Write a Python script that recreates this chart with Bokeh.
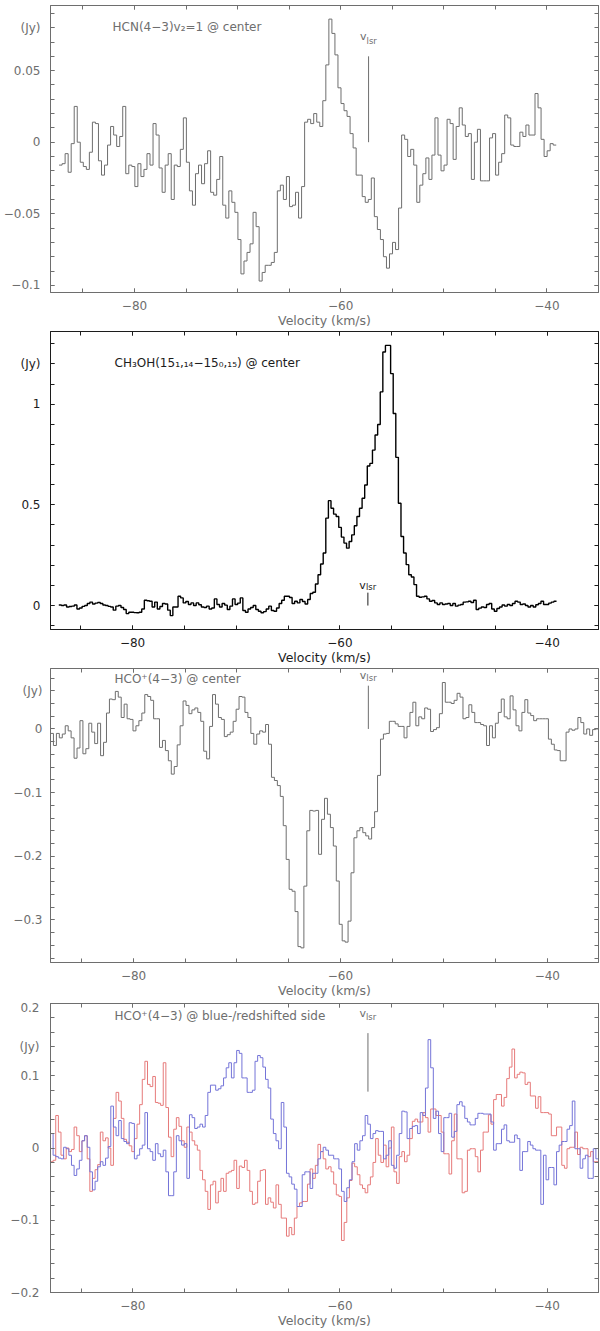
import numpy as np
from bokeh.plotting import figure
from bokeh.layouts import column
from bokeh.models import Range1d, FixedTicker, LinearAxis, Label, CustomJSTickFormatter
from bokeh.embed import file_html
from bokeh.resources import INLINE

# ---------------- data (Jy per channel) ----------------
# Panel 1: HCN(4-3) v2=1 @ center
HCN_V = (-87.32, -39.10)          # velocity span of the spectrum (km/s)
HCN_FLUX = [
    -0.016, -0.015, -0.008, -0.021, -0.001, 0.025, 0.000, -0.014, -0.017, -0.019,
    -0.007, 0.014, 0.013, -0.013, -0.023, -0.016, -0.002, 0.011, 0.005, -0.003,
    0.004, 0.025, -0.022, -0.016, -0.017, -0.031, -0.015, -0.024, -0.019, -0.008,
    -0.016, 0.013, 0.005, -0.018, -0.035, -0.016, -0.008, -0.040, -0.016, -0.017,
    -0.005, 0.017, -0.014, -0.034, -0.044, -0.022, -0.016, -0.029, -0.015, -0.006,
    -0.035, -0.037, -0.026, -0.010, -0.044, -0.053, -0.034, -0.042, -0.049, -0.068,
    -0.092, -0.083, -0.077, -0.071, -0.049, -0.059, -0.097, -0.091, -0.086, -0.086,
    -0.084, -0.077, -0.034, -0.030, -0.040, -0.024, -0.045, -0.044, -0.035, -0.053,
    -0.031, 0.014, 0.016, 0.013, 0.020, 0.014, 0.011, 0.029, 0.054, 0.086,
    0.076, 0.061, 0.038, 0.027, 0.022, 0.018, 0.006, -0.004, -0.023, -0.023,
    -0.038, -0.042, -0.040, -0.025, -0.052, -0.061, -0.068, -0.080, -0.088, -0.078,
    -0.070, -0.075, -0.046, 0.005, 0.002, -0.010, -0.005, -0.016, -0.042, -0.030,
    -0.022, -0.011, -0.026, -0.009, 0.017, -0.009, -0.020, -0.016, 0.016, 0.013,
    -0.012, 0.011, 0.024, 0.012, 0.004, 0.006, -0.026, 0.000, 0.009, -0.027,
    -0.027, -0.027, 0.003, 0.006, -0.023, -0.014, -0.008, 0.019, 0.017, -0.002,
    -0.003, -0.003, 0.007, 0.004, 0.012, 0.005, 0.005, 0.034, 0.024, 0.002,
    -0.010, -0.006, -0.001, -0.002,
]

# Panel 2: CH3OH(15_1,14-15_0,15) @ center
CH3OH_V = (-87.12, -39.10)
CH3OH_FLUX = [
    0.003, 0.000, 0.003, -0.007, -0.005, -0.003, 0.003, -0.017, -0.012, -0.004,
    0.000, 0.010, 0.017, 0.008, 0.012, 0.015, 0.010, 0.003, 0.000, -0.004,
    -0.007, -0.023, -0.003, 0.000, -0.010, -0.020, -0.040, -0.033, -0.033, -0.035,
    -0.036, -0.033, -0.017, 0.026, 0.024, 0.021, -0.007, 0.017, -0.017, -0.005,
    0.010, 0.008, -0.023, -0.050, -0.007, -0.007, 0.046, 0.038, 0.013, 0.020,
    0.005, 0.013, 0.000, 0.013, 0.004, -0.007, -0.010, -0.003, -0.017, -0.012,
    0.033, 0.005, -0.007, 0.010, 0.002, -0.020, -0.003, 0.033, 0.005, 0.012,
    0.038, -0.025, -0.033, -0.017, -0.010, 0.000, -0.020, -0.028, -0.036, -0.030,
    -0.017, -0.003, -0.025, -0.028, -0.012, 0.010, 0.026, 0.046, 0.046, 0.040,
    0.010, 0.021, 0.013, 0.030, 0.020, 0.008, 0.030,
    0.060, 0.066, 0.107, 0.153, 0.206, 0.261, 0.434, 0.521, 0.483, 0.454,
    0.442, 0.388, 0.340, 0.310, 0.285, 0.318, 0.351, 0.396, 0.442, 0.483,
    0.533, 0.599, 0.693, 0.706, 0.772, 0.847, 0.899, 1.061, 1.259, 1.292,
    1.292, 1.152, 0.954, 0.736, 0.508, 0.343, 0.261, 0.203, 0.153, 0.142,
    0.104, 0.046, 0.041,
    0.043, 0.046, 0.033, 0.021, 0.025, 0.013, 0.005, 0.013, 0.005, 0.008,
    0.010, 0.000, 0.010, -0.003, 0.002, 0.005, 0.017, 0.018, 0.021, 0.015,
    0.026, -0.020, -0.013, -0.007, -0.010, 0.005, 0.010, -0.017, -0.028, -0.015,
    -0.007, 0.003, -0.003, 0.005, 0.000, 0.010, 0.021, 0.017, 0.005, 0.008,
    0.000, -0.007, 0.000, -0.007, 0.004, 0.010, 0.021, 0.005, 0.005, 0.012,
    0.017, 0.021,
]

# Panel 3: HCO+(4-3) @ center
HCO_C_V = (-88.03, -35.05)
HCO_C_FLUX = [
    -0.007, -0.026, -0.007, -0.014, -0.008, 0.005, -0.003, -0.014, -0.046, -0.030,
    0.013, -0.039, -0.031, 0.009, -0.005, -0.023, 0.009, -0.042, -0.021, 0.025,
    0.047, 0.046, 0.059, 0.050, 0.018, 0.039, 0.016, 0.015, -0.003, 0.005,
    0.013, 0.025, 0.054, 0.051, 0.045, 0.016, 0.016, -0.029, -0.018, -0.034,
    -0.050, -0.071, -0.059, -0.025, 0.005, 0.044, 0.037, 0.024, 0.030, 0.033,
    0.026, 0.012, -0.035, -0.047, 0.004, 0.054, 0.039, 0.018, 0.015, -0.012,
    -0.009, -0.005, 0.012, 0.031, 0.051, 0.050, 0.026, 0.018, -0.007, -0.024,
    -0.008, -0.003, -0.005, 0.007, -0.024,
    -0.076, -0.081, -0.089, -0.106, -0.152, -0.205, -0.252, -0.255, -0.287, -0.342,
    -0.344, -0.247, -0.160, -0.128, -0.129, -0.128, -0.197, -0.142, -0.109, -0.134,
    -0.155, -0.184, -0.239, -0.307, -0.333, -0.335, -0.302, -0.226, -0.171, -0.160,
    -0.155, -0.163, -0.168, -0.173, -0.155, -0.130, -0.073,
    -0.016, -0.008, -0.007, 0.012, 0.012, 0.008, 0.004, 0.004, -0.014, 0.004,
    0.026, 0.042, 0.005, 0.019, 0.016, 0.033, 0.031, -0.004, -0.001, 0.002,
    0.024, 0.073, 0.042, 0.042, 0.040, 0.045, 0.056, 0.050, 0.016, 0.018,
    0.038, 0.026, 0.010, 0.010, 0.007, 0.005, -0.026, 0.005, -0.014, 0.009,
    0.026, 0.047, 0.019, 0.016, 0.052, 0.030, 0.005, -0.003, 0.026, 0.046,
    0.025, 0.021, 0.013, 0.016, 0.016, 0.016, 0.016, -0.016, -0.024, -0.033,
    -0.034, -0.050, -0.050, -0.005, 0.000, -0.002, 0.000, 0.018, 0.010, -0.008,
    0.000, -0.010, -0.001, 0.000,
]

# Panel 4: HCO+(4-3) @ blue-/redshifted side
HCO_SIDE_V = (-87.95, -35.04)
HCO_BLUE_FLUX = [
    0.020, -0.010, -0.012, -0.014, -0.015, 0.001, -0.001, -0.010, -0.024, -0.038,
    -0.029, -0.017, 0.010, 0.017, 0.001, -0.033, -0.058, -0.046, -0.026, -0.019,
    -0.024, -0.014, 0.002, 0.058, 0.029, 0.017, 0.038, 0.013, 0.009, 0.006,
    0.035, 0.034, -0.015, -0.010, -0.001, 0.004, 0.049, -0.001, -0.005, -0.017,
    0.006, -0.008, -0.012, -0.003, -0.033, -0.066, -0.066, -0.033, 0.017, 0.010,
    0.004, 0.006, -0.042, 0.046, 0.042, 0.027, 0.029, 0.033, 0.029, 0.045,
    0.077, 0.087, 0.087, 0.080, 0.082, 0.086, 0.097, 0.111, 0.118, 0.097,
    0.118, 0.135, 0.131, 0.097, 0.097, 0.077, 0.077, 0.080, 0.120, 0.128,
    0.125, 0.112, 0.095, 0.083, 0.040, 0.020, 0.010, -0.001, 0.063, 0.029,
    -0.035, -0.040, -0.050, -0.057, -0.081, -0.081, -0.037,
    -0.033, -0.033, -0.056, -0.035, -0.035, -0.015, -0.005, 0.001, -0.003, -0.010,
    -0.010, -0.015, -0.015, -0.029, -0.060, -0.074, -0.055, -0.044, -0.019, 0.006,
    -0.003, 0.010, 0.017, 0.045, 0.033, 0.013, 0.020, 0.024, 0.023, 0.023,
    -0.015, -0.010, 0.010, -0.024, -0.028, -0.010, 0.020, 0.051, 0.050, 0.013,
    0.027, 0.030, 0.031, 0.020, 0.049, 0.045, 0.083, 0.150, 0.111, 0.041,
    0.051, 0.020, -0.005, 0.042, 0.042, 0.048, 0.015, 0.023, 0.060, 0.064,
    0.058, 0.041, 0.036, 0.032, 0.032, 0.041, 0.048, 0.048, 0.047, 0.047,
    0.047, 0.036, -0.003, 0.006, 0.006, 0.026, 0.032, 0.010, 0.008, 0.008,
    0.018, 0.013, -0.031, -0.005, -0.005, 0.009, 0.004, -0.001, -0.003, -0.003,
    -0.078, -0.010, -0.044, -0.027, -0.027, -0.051, -0.005, 0.004, 0.009, 0.009,
    0.026, 0.031, 0.065, -0.001, -0.001, -0.028, -0.015, -0.010, -0.042, -0.042,
    -0.001, -0.015,
]
HCO_RED_FLUX = [
    -0.019, -0.017, 0.045, 0.022, -0.010, -0.015, 0.000, -0.005, -0.002, 0.029,
    0.017, -0.005, 0.010, 0.017, -0.015, -0.060, -0.042, -0.030, -0.023, 0.022,
    0.010, 0.014, 0.000, -0.024, 0.041, 0.077, 0.065, 0.041, 0.012, 0.008,
    0.003, -0.005, 0.013, 0.033, 0.060, 0.095,
    0.120, 0.088, 0.085, 0.099, 0.063, 0.062, 0.059, 0.118, 0.056, 0.015,
    -0.012, 0.026, 0.042, 0.030, 0.010, 0.001, 0.029, 0.022, 0.010, 0.004,
    -0.003, -0.031, -0.044, -0.060,
    -0.085, -0.051, -0.046, -0.076, -0.060, -0.042, -0.060, -0.035, -0.033, -0.031,
    -0.017, -0.056, -0.025, -0.027, -0.017, -0.031, -0.060, -0.078, -0.076, -0.046,
    -0.031, -0.030, -0.078, -0.069, -0.075, -0.083, -0.051, -0.078, -0.097, -0.097,
    -0.122, -0.110, -0.120, -0.097, -0.081, -0.076, -0.074,
    -0.074, -0.050, -0.029, -0.042, -0.024, 0.005, -0.005, -0.015, -0.029, -0.026,
    -0.033, -0.050, -0.065, -0.067, -0.128, -0.103, -0.069, -0.045, -0.021, -0.026,
    -0.037, -0.051, -0.056, -0.062, -0.051, -0.040, -0.020, 0.013, -0.010, -0.020,
    0.004, -0.026, 0.000, 0.029, -0.033, -0.049, -0.012, -0.005, -0.019, -0.010,
    0.013, 0.037, 0.040, 0.036, 0.036, 0.049, 0.042, 0.022, 0.054, 0.054,
    0.045, 0.045, 0.022, -0.008, -0.008, -0.036, 0.010, 0.047, -0.015, -0.015,
    -0.062, -0.060, -0.003, -0.001, -0.001, -0.012, -0.033, -0.003, 0.022, 0.022,
    0.046, 0.033, 0.067, 0.074, 0.074, 0.058, 0.070, 0.096, 0.112, 0.137,
    0.097, 0.102, 0.105, 0.104, 0.088, 0.091, 0.072, 0.072, 0.055, 0.071,
    0.049, 0.049, 0.049, 0.047, 0.017, 0.017, 0.029, 0.029, -0.024, -0.028,
    -0.001, 0.001, 0.001, 0.022, -0.009, 0.001, -0.001, -0.001, -0.012, -0.005,
    -0.019, -0.019,
]

V_LSR = -57.3
# v_lsr marker extent (Jy) per panel
VLSR_MARK = [(0.0, 0.060), (0.0, 0.064), (0.0, 0.068), (0.078, 0.159)]

# tick values
X_MAJOR = [-80, -60, -40]
X_MINOR = [-85, -80, -75, -70, -65, -60, -55, -50, -45, -40, -35]
Y1_MAJOR = [-0.1, -0.05, 0, 0.05]
Y2_MAJOR = [0, 0.5, 1]
Y3_MAJOR = [-0.3, -0.2, -0.1, 0]
Y4_MAJOR = [-0.2, -0.1, 0, 0.1, 0.2]
# y level where the "(Jy)" unit label sits on each panel's left axis
UNIT_AT = [0.08, 1.2, 0.06, 0.14]
UNIT_TEXT = "(Jy)"

# ---------------- styling ----------------
FONT = "DejaVu Sans"
GRAY = "#6e6e6e"
DARK = "#1c1c1c"
BLUE = "#7474d8"
RED = "#e67a7a"
W = 600


def minor(a, b, step):
    n = int(round((b - a) / step))
    return [round(a + i * step, 4) for i in range(n + 1)]


def fmt(unit_at=None):
    if unit_at is None:
        code = "return tick < 0 ? '\\u2212' + String(-tick) : String(tick);"
    else:
        code = ("if (Math.abs(tick - (%r)) < 1e-9) return '%s';"
                "return tick < 0 ? '\\u2212' + String(-tick) : String(tick);"
                % (unit_at, UNIT_TEXT))
    return CustomJSTickFormatter(code=code)


def blank():
    return CustomJSTickFormatter(code="return '';")


def style_axis(ax, col, labels):
    ax.axis_line_color = col
    ax.major_tick_line_color = col
    ax.minor_tick_line_color = col
    ax.major_tick_in = 4
    ax.major_tick_out = 0
    ax.minor_tick_in = 4
    ax.minor_tick_out = 0
    if labels:
        ax.major_label_text_font = FONT
        ax.major_label_text_font_size = "12px"
        ax.major_label_text_color = col
    else:
        ax.formatter = blank()
        ax.major_label_text_font_size = "0px"
        ax.major_label_standoff = 0


def panel(H, L, T, B, xr, yr, y_major, y_minor, unit_at, col, ystand):
    p = figure(width=W, height=H, x_range=Range1d(*xr), y_range=Range1d(*yr),
               output_backend="svg", toolbar_location=None,
               min_border_left=L, min_border_right=2, min_border_top=T,
               min_border_bottom=B)
    p.xgrid.visible = False
    p.ygrid.visible = False
    p.outline_line_color = col
    p.background_fill_color = "white"
    p.border_fill_color = "white"

    xb = p.below[0]
    xb.ticker = FixedTicker(ticks=X_MAJOR, minor_ticks=X_MINOR)
    xb.formatter = fmt()
    style_axis(xb, col, True)
    xb.major_label_standoff = 8
    xb.axis_label = "Velocity (km/s)"
    xb.axis_label_text_font = FONT
    xb.axis_label_text_font_size = "12.5px"
    xb.axis_label_text_font_style = "normal"
    xb.axis_label_text_color = col
    xb.axis_label_standoff = 0

    yl = p.left[0]
    yl.ticker = FixedTicker(ticks=sorted(y_major + [unit_at]), minor_ticks=y_minor)
    yl.formatter = fmt(unit_at)
    style_axis(yl, col, True)
    yl.major_label_standoff = ystand

    xa = LinearAxis(ticker=FixedTicker(ticks=X_MAJOR, minor_ticks=X_MINOR))
    style_axis(xa, col, False)
    p.add_layout(xa, "above")
    ya = LinearAxis(ticker=FixedTicker(ticks=y_major, minor_ticks=y_minor))
    style_axis(ya, col, False)
    p.add_layout(ya, "right")
    return p


def text(p, s, x, y, col, size="12px", align="left", units="screen", x_offset=0):
    p.add_layout(Label(x=x, y=y, x_units=units, y_units=units, text=s,
                       text_font=FONT, text_font_size=size, text_color=col,
                       text_align=align, text_baseline="middle", x_offset=x_offset))


def spectrum(p, span, flux, col, width=1.0):
    e = np.linspace(span[0], span[1], len(flux) + 1)
    p.step(x=e, y=list(flux) + [flux[-1]], mode="after", line_color=col,
           line_width=width)


def vlsr(p, mark, col, yv, yl):
    p.segment(x0=[V_LSR], y0=[mark[0]], x1=[V_LSR], y1=[mark[1]],
              line_color=col, line_width=1)
    text(p, "v", V_LSR, yv, col, size="11px", align="right", units="data", x_offset=-2)
    text(p, "lsr", V_LSR, yl, col, size="8.5px", align="left", units="data", x_offset=-2)


# Panel 1
H1, L1, T1, B1 = 330, 48, 5, 36
p1 = panel(H1, L1, T1, B1, (-88.15, -35.0), (-0.105, 0.0955), Y1_MAJOR,
           minor(-0.10, 0.09, 0.01), UNIT_AT[0], GRAY, 10)
spectrum(p1, HCN_V, HCN_FLUX, GRAY)
fh = H1 - T1 - B1
text(p1, "HCN(4\u22123)v\u2082=1 @ center", 62, fh - 23, GRAY)
vlsr(p1, VLSR_MARK[0], GRAY, 0.0738, 0.0705)

# Panel 2
H2, L2, T2, B2 = 337, 31, 1, 37
p2 = panel(H2, L2, T2, B2, (-87.92, -35.05), (-0.119, 1.361), Y2_MAJOR,
           minor(-0.1, 1.3, 0.1), UNIT_AT[1], DARK, 10)
spectrum(p2, CH3OH_V, CH3OH_FLUX, "#000000", 1.4)
fh = H2 - T2 - B2
text(p2, "CH\u2083OH(15\u2081,\u2081\u2084\u221215\u2080,\u2081\u2085) @ center", 64, fh - 32, DARK)
vlsr(p2, VLSR_MARK[1], DARK, 0.099, 0.094)

# Panel 3
H3, L3, T3, B3 = 333, 41, 1, 38
p3 = panel(H3, L3, T3, B3, (-88.03, -35.05), (-0.367, 0.095), Y3_MAJOR,
           minor(-0.36, 0.08, 0.02), UNIT_AT[2], GRAY, 8)
spectrum(p3, HCO_C_V, HCO_C_FLUX, GRAY)
fh = H3 - T3 - B3
text(p3, "HCO\u207a(4\u22123) @ center", 64, fh - 10, GRAY)
vlsr(p3, VLSR_MARK[2], GRAY, 0.0838, 0.0800)

# Panel 4
H4, L4, T4, B4 = 330, 41, 3, 35
p4 = panel(H4, L4, T4, B4, (-87.95, -35.04), (-0.2, 0.2), Y4_MAJOR,
           minor(-0.2, 0.2, 0.02), UNIT_AT[3], GRAY, 11)
spectrum(p4, HCO_SIDE_V, HCO_RED_FLUX, RED)
spectrum(p4, HCO_SIDE_V, HCO_BLUE_FLUX, BLUE)
fh = H4 - T4 - B4
text(p4, "HCO\u207a(4\u22123) @ blue-/redshifted side", 64, fh - 15, GRAY)
vlsr(p4, VLSR_MARK[3], GRAY, 0.186, 0.181)

layout = column(p1, p2, p3, p4, spacing=0)
open("out.html", "w").write(file_html(layout, INLINE))
